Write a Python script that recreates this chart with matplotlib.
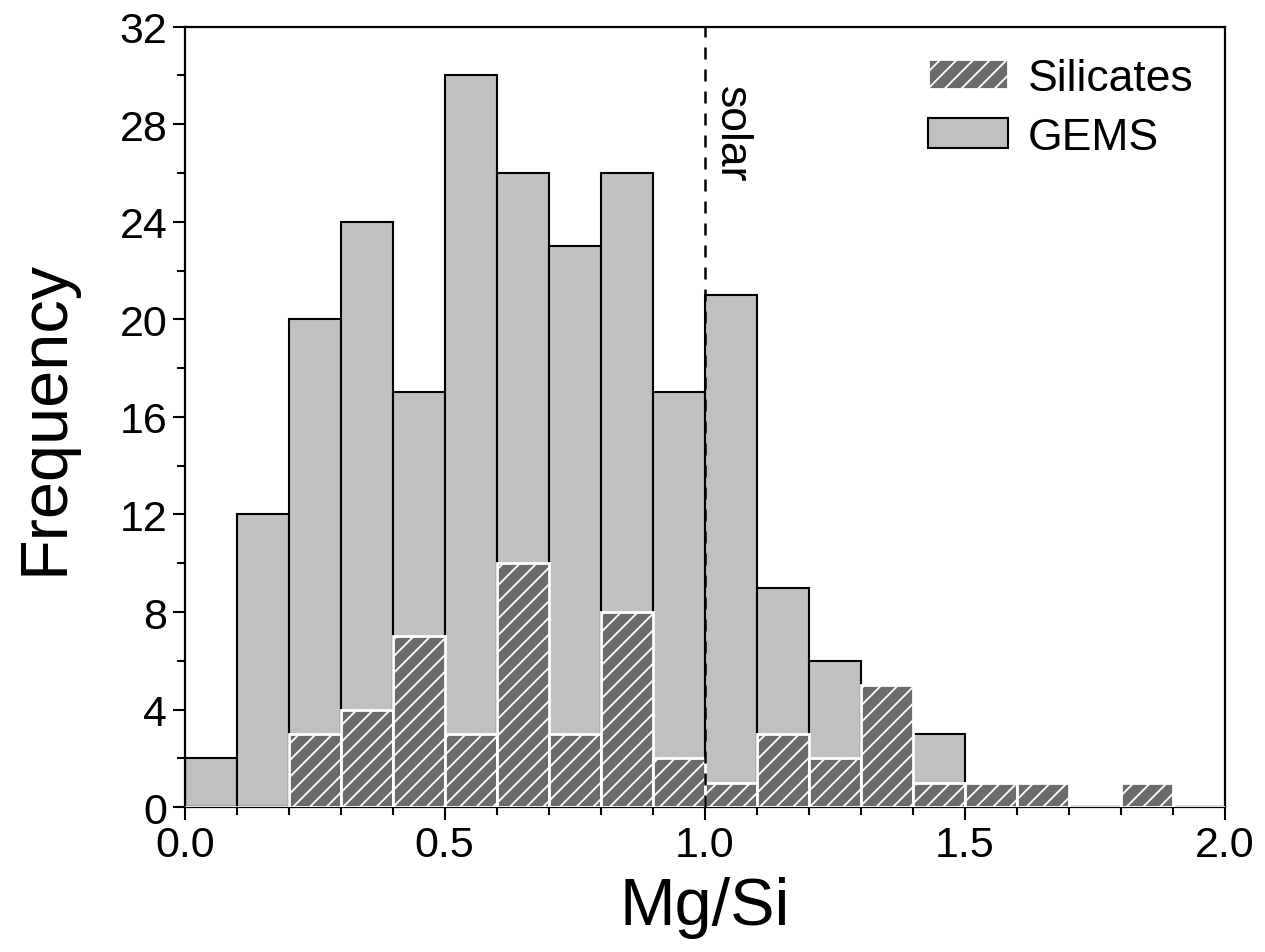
import numpy as np
import matplotlib
matplotlib.use("Agg")
import matplotlib.pyplot as plt
from matplotlib.ticker import MultipleLocator

plt.rcParams['font.family'] = ['Liberation Sans', 'DejaVu Sans']
plt.rcParams['hatch.linewidth'] = 1.3

# bin left edges (Mg/Si), width 0.1
bin_left = [0.0, 0.1, 0.2, 0.3, 0.4, 0.5, 0.6, 0.7, 0.8, 0.9,
            1.0, 1.1, 1.2, 1.3, 1.4, 1.5, 1.6, 1.7, 1.8, 1.9]
gems = [2, 12, 20, 24, 17, 30, 26, 23, 26, 17,
        21, 9, 6, 4, 3, 0, 0, 0, 0, 0]
silicates = [0, 0, 3, 4, 7, 3, 10, 3, 8, 2,
             1, 3, 2, 5, 1, 1, 1, 0, 1, 0]
bin_w = 0.1
solar = 1.0

fig = plt.figure(figsize=(12.65, 9.53), dpi=100)
ax = fig.add_axes([0.146, 0.152, 0.822, 0.819])

ax.bar(bin_left, gems, width=bin_w, align='edge', color='#c0c0c0',
       edgecolor='black', linewidth=1.5, label='GEMS', zorder=2)
ax.bar(bin_left, silicates, width=bin_w, align='edge', color='#6b6b6b',
       edgecolor='white', linewidth=2.0, hatch='//', label='Silicates', zorder=3)

ax.axvline(solar, color='black', lw=1.8, dashes=(4.8, 4), zorder=4)
ax.text(solar + 0.012, 29.6, 'solar', rotation=-90, fontsize=32,
        ha='left', va='top', zorder=5)

ax.set_xlim(0, 2.0)
ax.set_ylim(0, 32)
ax.xaxis.set_major_locator(MultipleLocator(0.5))
ax.xaxis.set_minor_locator(MultipleLocator(0.1))
ax.yaxis.set_major_locator(MultipleLocator(4))
ax.yaxis.set_minor_locator(MultipleLocator(2))
ax.xaxis.set_major_formatter(plt.FormatStrFormatter('%.1f'))
ax.tick_params(which='both', direction='out', width=1.5, labelsize=31,
               top=False, right=False)
ax.tick_params(which='major', length=9)
ax.tick_params(which='minor', length=6)
for s in ax.spines.values():
    s.set_linewidth(1.6)

ax.set_xlabel('Mg/Si', fontsize=48, labelpad=8)
ax.set_ylabel('Frequency', fontsize=48, labelpad=31)

h, l = ax.get_legend_handles_labels()
leg = ax.legend(h[::-1], l[::-1], loc='upper right', fontsize=32, frameon=False,
                handlelength=1.8, handleheight=0.65, handletextpad=0.45,
                labelspacing=0.4, borderaxespad=0.3)

fig.savefig('out.png', dpi=100)
